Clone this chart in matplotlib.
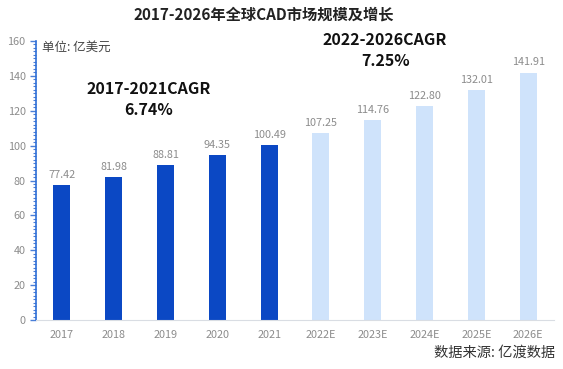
import matplotlib
matplotlib.use("Agg")
import matplotlib.pyplot as plt
from matplotlib.ticker import MultipleLocator

plt.rcParams['font.family'] = ['Noto Sans CJK SC', 'DejaVu Sans']

years = ['2017', '2018', '2019', '2020', '2021',
         '2022E', '2023E', '2024E', '2025E', '2026E']
values = [77.42, 81.98, 88.81, 94.35, 100.49,
          107.25, 114.76, 122.80, 132.01, 141.91]
n_actual = 5

dark_blue = '#0b48c4'
light_blue = '#cfe3fb'
gray = '#8c8c8c'

fig = plt.figure(figsize=(5.63, 3.69), dpi=100)
ax = fig.add_axes([36 / 563, 1 - 320 / 369, 518 / 563, 279 / 369])

colors = [dark_blue if i < n_actual else light_blue for i in range(len(values))]
x = range(len(values))
ax.bar(x, values, width=0.33, color=colors)

for i, v in enumerate(values):
    ax.text(i, v + 3, f'{v:.2f}', ha='center', va='bottom', fontsize=7.8, color=gray)

ax.set_xlim(-0.5, len(values) - 0.5)
ax.set_ylim(0, 160)
ax.set_xticks(list(x))
ax.set_xticklabels(years, fontsize=7.8, color=gray)
ax.yaxis.set_major_locator(MultipleLocator(20))
ax.yaxis.set_minor_locator(MultipleLocator(2))
ax.tick_params(axis='y', which='major', labelsize=7.8, labelcolor=gray,
               color='#4a7fd8', length=4, width=1)
ax.tick_params(axis='y', which='minor', color='#4a7fd8', length=2, width=0.8)
ax.tick_params(axis='x', length=0, pad=7)

for s in ['top', 'right']:
    ax.spines[s].set_visible(False)
ax.spines['left'].set_color('#2f6fd6')
ax.spines['left'].set_linewidth(1.2)
ax.spines['bottom'].set_color('#d9dde3')

fig.text(264 / 563, 1 - 15 / 369, '2017-2026年全球CAD市场规模及增长', ha='center', va='center',
         fontsize=11, fontweight='bold', color='#222222')
fig.text(42 / 563, 1 - 47 / 369, '单位: 亿美元', ha='left', va='center',
         fontsize=9, color='#444444')
fig.text(149 / 563, 1 - 89 / 369, '2017-2021CAGR', ha='center', va='center',
         fontsize=11.5, fontweight='bold', color='#111111')
fig.text(149 / 563, 1 - 110 / 369, '6.74%', ha='center', va='center',
         fontsize=11.5, fontweight='bold', color='#111111')
fig.text(385 / 563, 1 - 40 / 369, '2022-2026CAGR', ha='center', va='center',
         fontsize=11.5, fontweight='bold', color='#111111')
fig.text(386 / 563, 1 - 61 / 369, '7.25%', ha='center', va='center',
         fontsize=11.5, fontweight='bold', color='#111111')
fig.text(555 / 563, 1 - 353 / 369, '数据来源: 亿渡数据', ha='right', va='center',
         fontsize=10.3, color='#333333')

fig.savefig('out.png', dpi=100)
